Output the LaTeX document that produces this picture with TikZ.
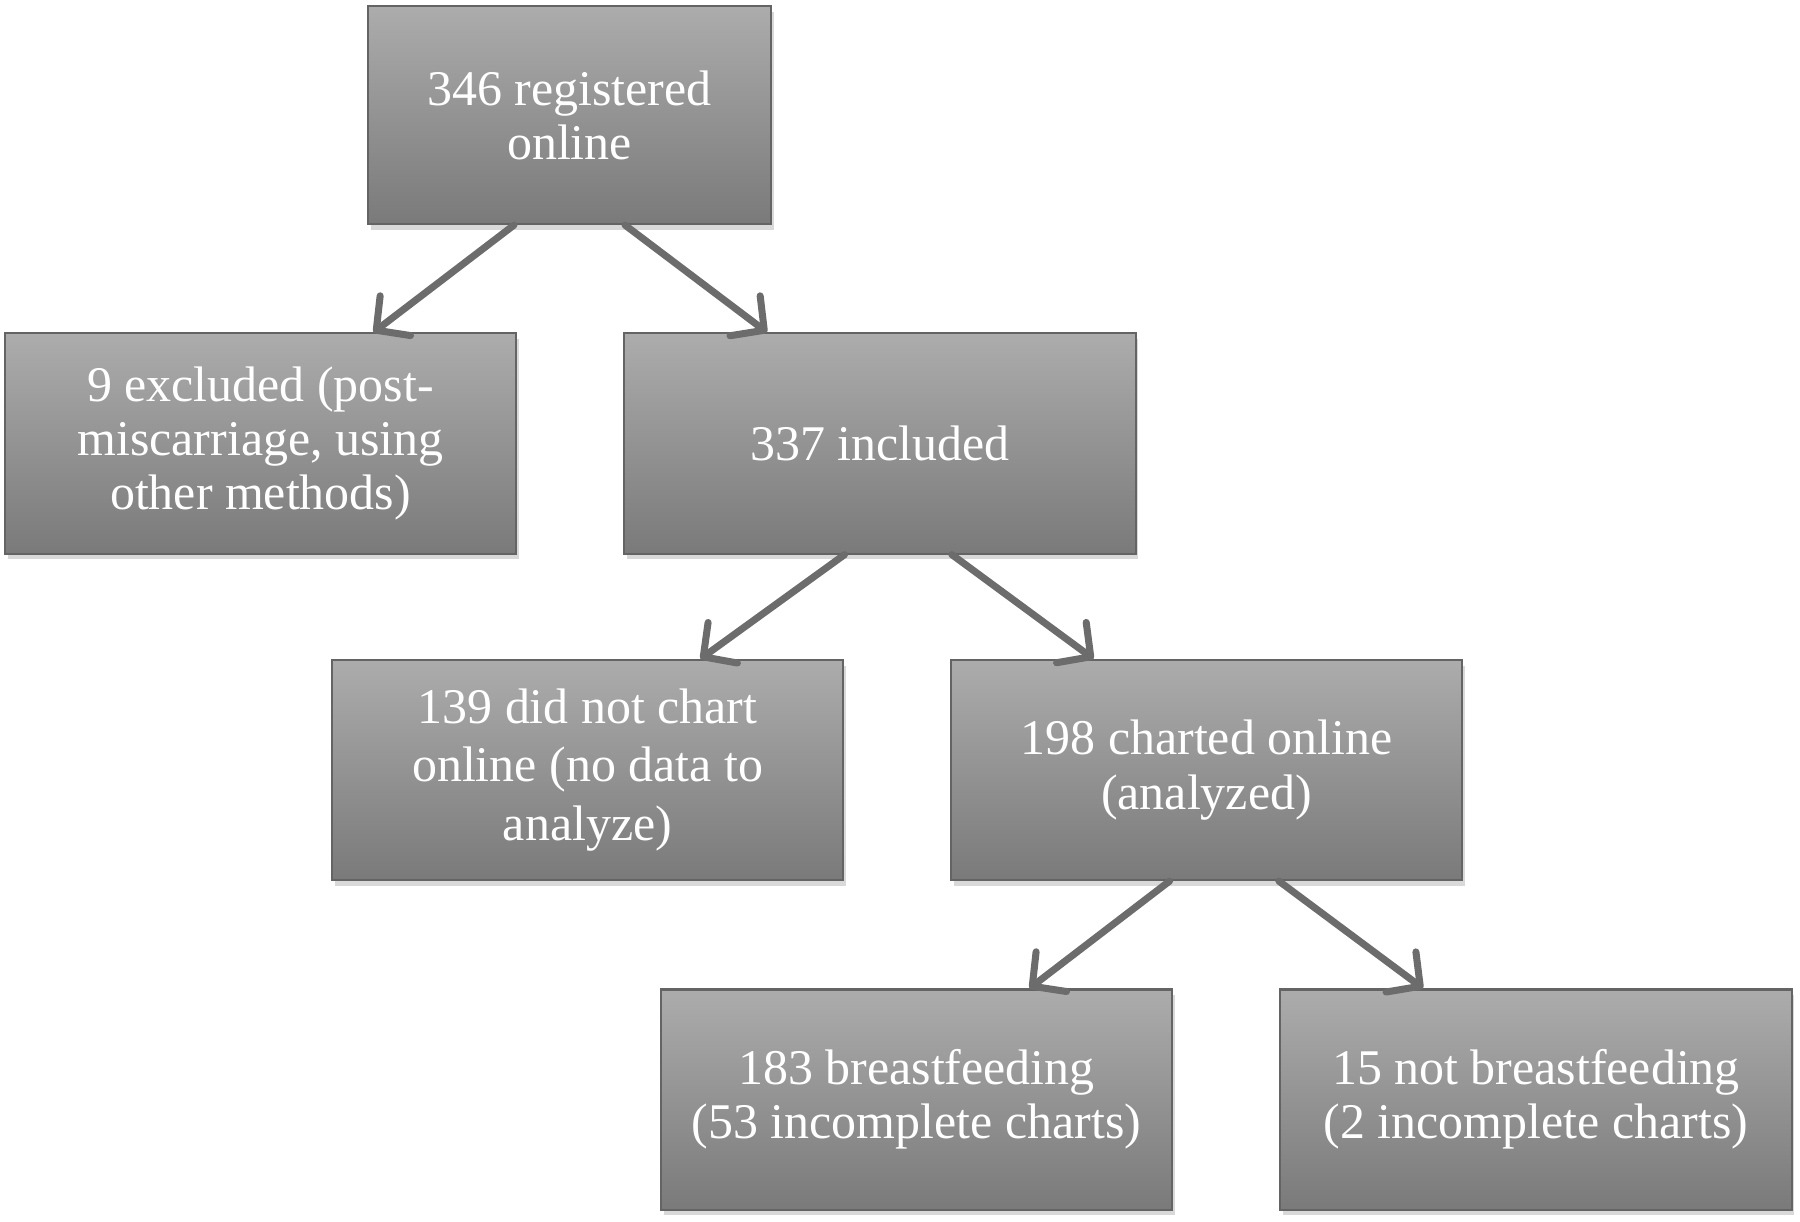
\documentclass[tikz,border=0pt]{standalone}
\usepackage{fontspec}
\setmainfont{Liberation Serif}
\usetikzlibrary{arrows.meta,calc,shadows}
\definecolor{G1}{RGB}{172,172,172}
\definecolor{G2}{RGB}{122,122,122}
\definecolor{G3}{RGB}{100,100,100}
\definecolor{A1}{RGB}{108,108,108}

\begin{document}
\begin{tikzpicture}[x=0.01cm, y=-0.01cm,
    box/.style={draw=G3, line width=0.6pt, top color=G1, bottom color=G2,
      minimum width=5.11cm, minimum height=2.2cm, inner sep=0pt, align=center,
      text=white, font=\fontsize{14.2}{15.4}\selectfont,
      drop shadow={shadow xshift=0.8pt, shadow yshift=-1.6pt, opacity=0.3}},
    arr/.style={A1, line width=2pt, line cap=round, -{Straight Barb[length=2.4mm, width=5mm, round]}}]
      \useasboundingbox (0,0) rectangle (1800,1221);
      \node[box, minimum width=4.03cm, minimum height=2.18cm] (reg) at (569.5,115) {346 registered\\online};
      \node[box] (excl) at (260.5,443.5) {9 excluded (post-\\miscarriage, using\\other methods)};
      \node[box] (incl) at (880,443.5) {337 included};
      \node[box, font=\fontsize{14.2}{16.6}\selectfont] (nochart) at (587.5,770) {139 did not chart\\online (no data to\\analyze)};
      \node[box] (chart) at (1206.5,770) {198 charted online\\(analyzed)};
      \node[box] (bf) at (916.5,1099.5) {183 breastfeeding\\(53 incomplete charts)};
      \node[box] (nobf) at (1536,1099.5) {15 not breastfeeding\\(2 incomplete charts)};
      \draw[arr] ($(reg.south west)!0.363!(reg.south east)$) -- ($(excl.north west)!0.72!(excl.north east)$);
      \draw[arr] ($(reg.south west)!0.637!(reg.south east)$) -- ($(incl.north west)!0.28!(incl.north east)$);
      \draw[arr] ($(incl.south west)!0.431!(incl.south east)$) -- ($(nochart.north west)!0.72!(nochart.north east)$);
      \draw[arr] ($(incl.south west)!0.64!(incl.south east)$) -- ($(chart.north west)!0.28!(chart.north east)$);
      \draw[arr] ($(chart.south west)!0.428!(chart.south east)$) -- ($(bf.north west)!0.72!(bf.north east)$);
      \draw[arr] ($(chart.south west)!0.641!(chart.south east)$) -- ($(nobf.north west)!0.28!(nobf.north east)$);
    \end{tikzpicture}
\end{document}
